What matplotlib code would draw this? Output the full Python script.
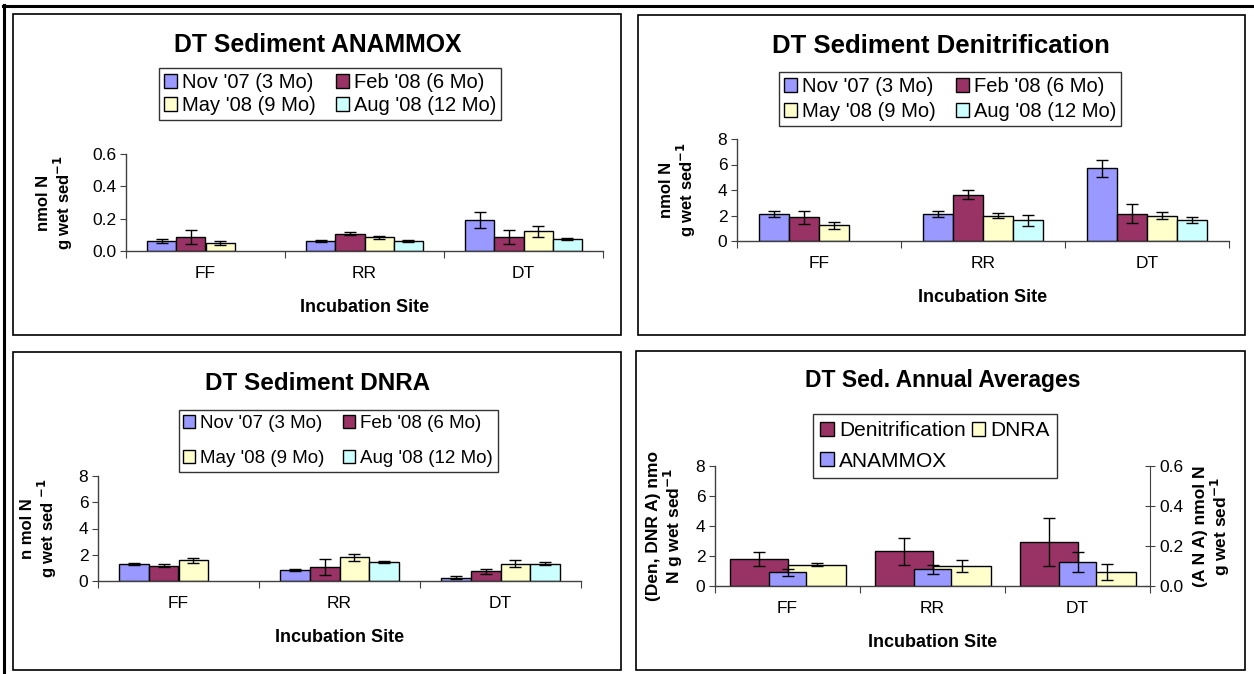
import matplotlib
matplotlib.use("Agg")
import matplotlib.pyplot as plt
import numpy as np
from matplotlib.patches import Rectangle, Patch
from matplotlib.lines import Line2D

plt.rcParams['font.family'] = ['Liberation Sans', 'DejaVu Sans']

sites = ["FF", "RR", "DT"]
months = ["Nov '07 (3 Mo)", "Feb '08 (6 Mo)", "May '08 (9 Mo)", "Aug '08 (12 Mo)"]
month_colors = ["#9999FF", "#993366", "#FFFFCC", "#CCFFFF"]

# ANAMMOX rates per sampling month (rows) at FF, RR, DT; FF has no Aug value
ana_vals = [[0.060, 0.062, 0.190],
            [0.087, 0.107, 0.086],
            [0.052, 0.086, 0.121],
            [np.nan, 0.062, 0.076]]
ana_err = [[0.013, 0.004, 0.050],
           [0.045, 0.008, 0.045],
           [0.012, 0.009, 0.035],
           [np.nan, 0.008, 0.005]]

# denitrification
den_vals = [[2.13, 2.13, 5.70],
            [1.87, 3.63, 2.13],
            [1.23, 2.00, 2.00],
            [np.nan, 1.63, 1.63]]
den_err = [[0.25, 0.25, 0.68],
           [0.50, 0.35, 0.75],
           [0.25, 0.20, 0.30],
           [np.nan, 0.42, 0.25]]

# DNRA
dnra_vals = [[1.31, 0.86, 0.25],
             [1.18, 1.08, 0.73],
             [1.58, 1.80, 1.33],
             [np.nan, 1.44, 1.33]]
dnra_err = [[0.07, 0.06, 0.13],
            [0.12, 0.62, 0.19],
            [0.18, 0.25, 0.30],
            [np.nan, 0.06, 0.11]]

# annual averages
avg_den = [1.81, 2.33, 2.92]
avg_den_err = [0.45, 0.90, 1.60]
avg_dnra = [1.42, 1.31, 0.93]
avg_dnra_err = [0.10, 0.40, 0.55]
avg_ana = [0.069, 0.083, 0.120]
avg_ana_err = [0.018, 0.023, 0.048]

W, H = 1254, 674
fig = plt.figure(figsize=(W / 100, H / 100), dpi=100)


def fx(x):
    return x / W


def fy(y):
    return 1 - y / H


def px_axes(l, t, r, b):
    return fig.add_axes([fx(l), fy(b), (r - l) / W, (b - t) / H])


def frame_box(l, t, r, b, lw=1.2):
    fig.patches.append(Rectangle((fx(l), fy(b)), (r - l) / W, (b - t) / H,
                                 transform=fig.transFigure, fill=False,
                                 edgecolor="black", linewidth=lw))


# page borders
fig.add_artist(Line2D([fx(3), fx(1254)], [fy(5.5), fy(5.5)], color="black", lw=2.2,
                      transform=fig.transFigure))
fig.add_artist(Line2D([fx(4), fx(4)], [fy(5), fy(674)], color="black", lw=2.2,
                      transform=fig.transFigure))
frame_box(13, 14, 621, 335)
frame_box(638, 15, 1245, 335)
frame_box(13, 352, 621, 670)
frame_box(636, 351, 1245, 670)

AX_COLOR = "#404040"
TICK_FS = 12.5
LABEL_FS = 12


def style_axes(ax, ylim, yticks, fmt):
    ax.set_xlim(0, 3)
    ax.set_ylim(*ylim)
    ax.set_yticks(yticks)
    ax.set_yticklabels([fmt.format(v) for v in yticks], fontsize=TICK_FS)
    ax.set_xticks([0, 1, 2, 3])
    ax.set_xticklabels([])
    ax.set_xticks([0.5, 1.5, 2.5], minor=True)
    ax.set_xticklabels(sites, minor=True, fontsize=TICK_FS)
    ax.tick_params(axis="x", which="major", direction="out", length=5, color=AX_COLOR)
    ax.tick_params(axis="x", which="minor", length=0, pad=11)
    ax.tick_params(axis="y", direction="out", length=4, color=AX_COLOR, pad=3)
    for s in ("top", "right"):
        ax.spines[s].set_visible(False)
    for s in ("left", "bottom"):
        ax.spines[s].set_color(AX_COLOR)
        ax.spines[s].set_linewidth(1.0)
    ax.set_facecolor("none")
    ax.set_xlabel("Incubation Site", fontsize=13, fontweight="bold", labelpad=13)


def grouped_bars(ax, vals, errs, width):
    x = np.arange(3) + 0.5
    n = len(vals)
    for i in range(n):
        pos = x + (i - (n - 1) / 2) * width
        ax.bar(pos, vals[i], width, color=month_colors[i], edgecolor="black",
               linewidth=1.0, zorder=2)
        ax.errorbar(pos, vals[i], yerr=errs[i], fmt="none", ecolor="black",
                    elinewidth=1.0, capsize=4, capthick=1.0, zorder=3)


def month_legend(cx, cy, labelspacing, fs=14.5):
    handles = [Patch(facecolor=c, edgecolor="black", linewidth=1.0) for c in month_colors]
    order = [0, 2, 1, 3]
    leg = fig.legend([handles[i] for i in order], [months[i] for i in order],
                     loc="center", bbox_to_anchor=(fx(cx), fy(cy)), ncol=2,
                     fontsize=fs, frameon=True, fancybox=False, edgecolor="black",
                     handlelength=0.65, handleheight=0.65, handletextpad=0.25,
                     columnspacing=1.0, labelspacing=labelspacing, borderpad=0.25,
                     borderaxespad=0)
    leg.get_frame().set_linewidth(1.0)
    return leg


# DT Sediment ANAMMOX
ax1 = px_axes(126, 154, 603, 251)
grouped_bars(ax1, ana_vals, ana_err, 0.183)
style_axes(ax1, (0, 0.6), [0, 0.2, 0.4, 0.6], "{:.1f}")
ax1.set_ylabel("nmol N\ng wet sed$^{\\mathbf{-1}}$", fontsize=LABEL_FS, fontweight="bold",
               labelpad=12, linespacing=1.05)
fig.text(fx(318), fy(45), "DT Sediment ANAMMOX", ha="center", va="center",
         fontsize=17.8, fontweight="bold")
month_legend(330, 94, 0.2)

# DT Sediment Denitrification
ax2 = px_axes(737, 139, 1229, 241)
grouped_bars(ax2, den_vals, den_err, 0.183)
style_axes(ax2, (0, 8), [0, 2, 4, 6, 8], "{:.0f}")
ax2.set_ylabel("nmol N\ng wet sed$^{\\mathbf{-1}}$", fontsize=LABEL_FS, fontweight="bold",
               labelpad=14, linespacing=1.05)
fig.text(fx(941), fy(46), "DT Sediment Denitrification", ha="center", va="center",
         fontsize=18.5, fontweight="bold")
month_legend(950, 99, 0.3)

# DT Sediment DNRA
ax3 = px_axes(98, 476, 581, 581)
grouped_bars(ax3, dnra_vals, dnra_err, 0.185)
style_axes(ax3, (0, 8), [0, 2, 4, 6, 8], "{:.0f}")
ax3.set_ylabel("n mol N\ng wet sed $^{\\mathbf{-1}}$", fontsize=LABEL_FS, fontweight="bold",
               labelpad=14, linespacing=1.05)
fig.text(fx(318), fy(383), "DT Sediment DNRA", ha="center", va="center",
         fontsize=17.5, fontweight="bold")
month_legend(338, 441, 0.95, fs=13.5)

# DT Sed. Annual Averages, ANAMMOX on its own axis
ax4 = px_axes(715, 466, 1150, 586)
xc = np.arange(3) + 0.5
ax4.bar(xc - 0.2, avg_den, 0.4, color="#993366", edgecolor="black", linewidth=1.0, zorder=2)
ax4.bar(xc + 0.2, avg_dnra, 0.4, color="#FFFFCC", edgecolor="black", linewidth=1.0, zorder=2)
ax4.errorbar(xc - 0.2, avg_den, yerr=avg_den_err, fmt="none", ecolor="black",
             elinewidth=1.0, capsize=4, zorder=3)
ax4.errorbar(xc + 0.2, avg_dnra, yerr=avg_dnra_err, fmt="none", ecolor="black",
             elinewidth=1.0, capsize=4, zorder=3)
style_axes(ax4, (0, 8), [0, 2, 4, 6, 8], "{:.0f}")
ax4.set_ylabel("(Den, DNR A) nmo\nN g wet sed$^{\\mathbf{-1}}$", fontsize=12.5,
               fontweight="bold", labelpad=8, linespacing=1.05)

ax5 = ax4.twinx()
ax5.bar(xc, avg_ana, 0.255, color="#9999FF", edgecolor="black", linewidth=1.0, zorder=2)
ax5.errorbar(xc, avg_ana, yerr=avg_ana_err, fmt="none", ecolor="black",
             elinewidth=1.0, capsize=4, zorder=3)
ax5.set_ylim(0, 0.6)
ax5.set_yticks([0, 0.2, 0.4, 0.6])
ax5.set_yticklabels(["0.0", "0.2", "0.4", "0.6"], fontsize=TICK_FS)
ax5.tick_params(axis="y", direction="inout", length=7, color=AX_COLOR, pad=3)
for s in ("top", "left", "bottom"):
    ax5.spines[s].set_visible(False)
ax5.spines["right"].set_color(AX_COLOR)
ax5.set_ylabel("(A N A) nmol N\ng wet sed$^{\\mathbf{-1}}$", fontsize=12.5,
               fontweight="bold", labelpad=7, linespacing=1.05, rotation=90)

fig.text(fx(943), fy(381), "DT Sed. Annual Averages", ha="center", va="center",
         fontsize=16.5, fontweight="bold")
avg_handles = [Patch(facecolor="#993366", edgecolor="black", linewidth=1.0),
               Patch(facecolor="#9999FF", edgecolor="black", linewidth=1.0),
               Patch(facecolor="#FFFFCC", edgecolor="black", linewidth=1.0)]
leg = fig.legend(avg_handles, ["Denitrification", "ANAMMOX", "DNRA"], loc="center",
                 bbox_to_anchor=(fx(935), fy(446)), ncol=2, fontsize=15, frameon=True,
                 fancybox=False, edgecolor="black", handlelength=0.65, handleheight=0.65,
                 handletextpad=0.25, columnspacing=0.3, labelspacing=0.55, borderpad=0.35,
                 borderaxespad=0)
leg.get_frame().set_linewidth(1.0)

fig.savefig("out.png", dpi=100)
